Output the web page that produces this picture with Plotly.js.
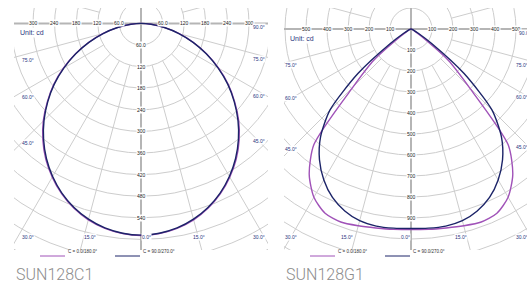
<!DOCTYPE html>
<html><head><meta charset="utf-8">
<script src="https://cdn.plot.ly/plotly-3.0.1.min.js"></script>
<style>html,body{margin:0;padding:0;background:#fff;}#chart{width:527px;height:284px;}</style>
</head><body><div id="chart"></div>
<script>
// ---- data (luminous intensity, cd, vs gamma angle in degrees) ----
const gammaAngles = [0,5,10,15,20,25,30,35,40,45,50,55,60,65,70,75,80,85,90];
const c1_C0  = [589,586,578,565,546,522,493,461,424,384,340,296,249,202,155,110,67,29,0];
const c1_C90 = [588,585,577,563,544,520,491,458,421,381,338,294,247,200,154,109,66,28,0];
const g1_C0  = [955,958,962,970,978,968,925,845,720,390,230,60,20,10,5,3,2,1,0];
const g1_C90 = [950,952,953,945,922,885,830,760,670,545,330,120,40,15,8,5,3,1,0];
const chartNames = ['SUN128C1','SUN128G1'];
const legendNames = ['C = 0.0/180.0°','C = 90.0/270.0°'];
const ringLabelsC1 = ['60.0','120','180','240','300','360','420','480','540'];
const ringLabelsG1 = ['100','200','300','400','500','600','700','800','900'];
const topLabelsC1 = ['60.0','120','180','240','300'];
const topLabelsG1 = ['100','200','300','400','500'];
const angleLabels = ['0.0°','15.0°','30.0°','45.0°','60.0°','75.0°','90.0°'];

const W = 527, H = 284;
const purple = '#a052b8', navy = '#1c2468';
const gridCol = '#cdcdcd', axisCol = '#b5b5b5', lblNavy = '#2a3580';

// panel geometry (pixels)
const panels = [
  {cx:141, cy:23.4, k:0.36, L:14, R:268, T:8, B:250, step:60, ringLabels:ringLabelsC1, topLabels:topLabelsC1,
   C0:c1_C0, C90:c1_C90, xa:'x', ya:'y', smooth:1.0},
  {cx:411, cy:29, k:0.21, L:284, R:527, T:8, B:250, step:100, ringLabels:ringLabelsG1, topLabels:topLabelsG1,
   C0:g1_C0, C90:g1_C90, xa:'x2', ya:'y2', smooth:0.7}
];

function curveXY(vals){
  const x=[], y=[];
  for(let i=vals.length-1;i>=0;i--){const a=gammaAngles[i]*Math.PI/180; x.push(-vals[i]*Math.sin(a)); y.push(-vals[i]*Math.cos(a));}
  for(let i=1;i<vals.length;i++){const a=gammaAngles[i]*Math.PI/180; x.push(vals[i]*Math.sin(a)); y.push(-vals[i]*Math.cos(a));}
  return {x,y};
}

const traces=[], shapes=[], annotations=[];
const layout = {width:W, height:H, margin:{l:0,r:0,t:0,b:0}, showlegend:false,
  paper_bgcolor:'#fff', plot_bgcolor:'rgba(0,0,0,0)'};

panels.forEach((p,pi)=>{
  const sfx = pi===0?'':'2';
  const xr=[(p.L-p.cx)/p.k,(p.R-p.cx)/p.k], yr=[(p.cy-p.B)/p.k,(p.cy-p.T)/p.k];
  const ax = {visible:false, showgrid:false, zeroline:false, fixedrange:true};
  layout['xaxis'+sfx] = Object.assign({}, ax, {domain:[p.L/W, Math.min(p.R,W)/W], range:xr, anchor:'y'+sfx});
  layout['yaxis'+sfx] = Object.assign({}, ax, {domain:[1-p.B/H, 1-p.T/H], range:yr, anchor:'x'+sfx});
  // rings
  for(let r=1;r<=16;r++){
    const rr=r*p.step;
    shapes.push({type:'circle', xref:p.xa, yref:p.ya, x0:-rr, x1:rr, y0:-rr, y1:rr, layer:'below', line:{color:gridCol,width:1}});
  }
  // spokes every 15 deg
  for(let a=15;a<360;a+=15){
    if(a%90===0) continue;
    const t=a*Math.PI/180, r0=2*p.step, r1=20*p.step;
    shapes.push({type:'line', xref:p.xa, yref:p.ya, x0:r0*Math.sin(t), y0:-r0*Math.cos(t), x1:r1*Math.sin(t), y1:-r1*Math.cos(t), layer:'below', line:{color:gridCol,width:1}});
  }
  // main axes
  shapes.push({type:'line', xref:p.xa, yref:p.ya, x0:xr[0]*1.2, x1:xr[1]*1.2, y0:0, y1:0, layer:'below', line:{color:axisCol,width:2}});
  shapes.push({type:'line', xref:p.xa, yref:p.ya, x0:0, x1:0, y0:yr[0]*1.2, y1:yr[1]*1.2, layer:'below', line:{color:axisCol,width:2}});
  // curves
  const a=curveXY(p.C0), b=curveXY(p.C90);
  traces.push({type:'scatter', mode:'lines', x:a.x, y:a.y, xaxis:p.xa, yaxis:p.ya, line:{color:purple,width:1.4,shape:'spline',smoothing:p.smooth}, hoverinfo:'skip'});
  traces.push({type:'scatter', mode:'lines', x:b.x, y:b.y, xaxis:p.xa, yaxis:p.ya, line:{color:navy,width:1.4,shape:'spline',smoothing:p.smooth}, hoverinfo:'skip'});
  // ring labels
  p.ringLabels.forEach((t,i)=>{
    annotations.push({xref:p.xa, yref:p.ya, x:0, y:-(i+1)*p.step, text:t, showarrow:false, bgcolor:'#fff', borderpad:0,
      font:{family:'Liberation Sans, Arial', size:5, color:'#222'}});
  });
  p.topLabels.forEach((t,i)=>{
    [-1,1].forEach(s=>annotations.push({xref:p.xa, yref:p.ya, x:s*(i+1)*p.step, y:0, text:t, showarrow:false, bgcolor:'#fff', borderpad:0,
      font:{family:'Liberation Sans, Arial', size:5, color:'#222'}}));
  });
  // angle labels (positions in px relative to panel rectangle)
  const Lx=p.L+7, Rx=p.L+245, By=241;
  const angPos = [
    [6,Rx+(pi===1?3:0),p.cy],
    [5,Lx,null],[5,Rx,null],[4,Lx,null],[4,Rx,null],[3,Lx,null],[3,Rx,null],
    [2,Lx,By],[2,Rx,By],
    [1,null,By,-1],[1,null,By,1],[0,p.cx,By]
  ];
  angPos.forEach(ap=>{
    const ang=ap[0]*15*Math.PI/180;
    let px=ap[1], py=ap[2];
    if(py===null){ py = p.cy + Math.abs(px-p.cx)/Math.tan(ang); }
    if(px===null){ px = p.cx + ap[3]*(By-p.cy)*Math.tan(ang); }
    annotations.push({xref:'paper', yref:'paper', x:px/W, y:1-py/H, text:angleLabels[ap[0]], showarrow:false, bgcolor:'#fff', borderpad:0,
      font:{family:'Liberation Sans, Arial', size:5, color:lblNavy}});
  });
  // unit label
  annotations.push({xref:'paper', yref:'paper', x:(p.L+4)/W, y:1-(p.cy+3.5)/H, xanchor:'left', text:'Unit: cd', showarrow:false,
    bgcolor:'#fff', borderpad:1, font:{family:'Liberation Sans, Arial', size:7, color:lblNavy}});
  // legend
  const legX = [p.L+26, p.L+101];
  [[purple,legendNames[0]],[navy,legendNames[1]]].forEach((it,j)=>{
    shapes.push({type:'line', xref:'paper', yref:'paper', x0:legX[j]/W, x1:(legX[j]+25)/W, y0:1-256/H, y1:1-256/H, line:{color:it[0],width:1}});
    annotations.push({xref:'paper', yref:'paper', x:(legX[j]+26)/W, y:1-256/H, xanchor:'left', text:it[1], showarrow:false,
      font:{family:'Liberation Sans, Arial', size:4.5, color:'#333'}});
  });
  // title
  annotations.push({xref:'paper', yref:'paper', x:(p.L+1)/W, y:1-274/H, xanchor:'left', yanchor:'middle', text:chartNames[pi], showarrow:false,
    borderpad:0, font:{family:'Roboto', size:16, weight:300, color:'#8d8d8d'}});
});

layout.shapes=shapes; layout.annotations=annotations;
Plotly.newPlot('chart', traces, layout, {staticPlot:true, displayModeBar:false});
</script></body></html>
